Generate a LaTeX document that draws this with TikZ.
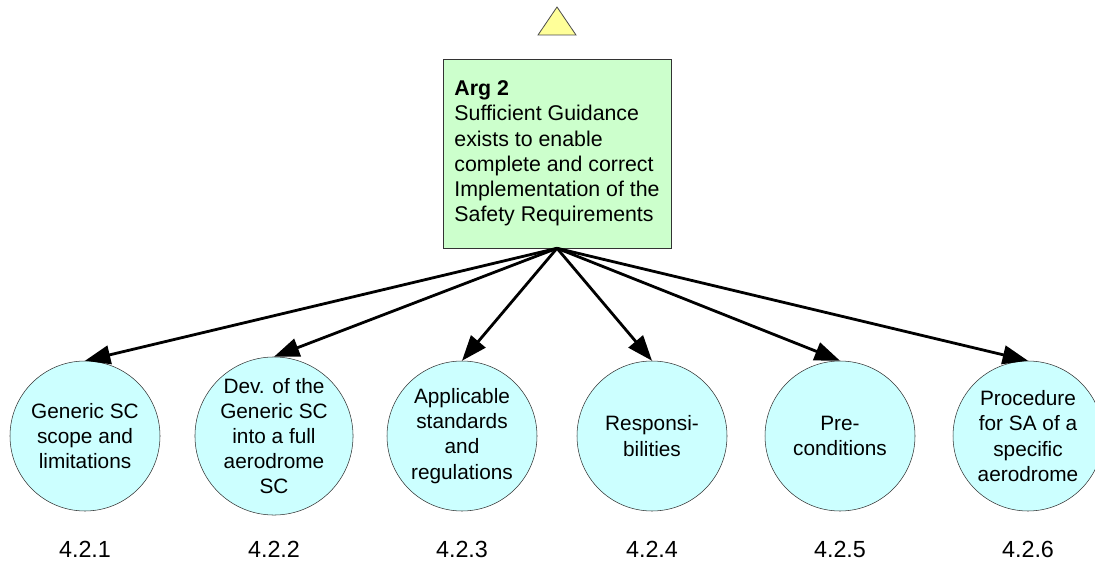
\documentclass[tikz,border=0pt]{standalone}
\usepackage{fontspec}
\setmainfont{Liberation Sans}
\usetikzlibrary{arrows.meta}
\definecolor{argfill}{HTML}{CCFFCC}
\definecolor{ctxfill}{HTML}{CCFFFF}
\definecolor{topfill}{HTML}{FFFF99}
\begin{document}
\begin{tikzpicture}[x=0.75pt,y=-0.75pt,
    argbox/.style={draw=black!80,fill=argfill,align=left,minimum width=171pt,minimum height=141.75pt,inner sep=0pt,
        font=\fontsize{16}{18.9}\selectfont},
    topic/.style={circle,draw=black!80,fill=ctxfill,minimum size=112.5pt,inner sep=0pt,align=center,
        font=\fontsize{15.6}{18.9}\selectfont},
    secno/.style={font=\fontsize{17.5}{20}\selectfont},
    link/.style={line width=2.1pt,-{Triangle[length=19pt,width=14pt]}}] %Arg 2 y sus contextos
    \useasboundingbox (0,0) rectangle (1095,560);

    \coordinate (T1) at (557,7);
    \coordinate (T2) at (538,35);
    \coordinate (T3) at (576,35);
    \filldraw[fill=topfill,draw=black!70,line width=0.6pt] (T1) -- (T2) -- (T3) -- cycle;

    \node[argbox] (arg) at (557,153.5) {\textbf{Arg 2}\\Sufficient Guidance\\exists to enable\\complete and correct\\Implementation of the\\Safety Requirements};

    \node[topic] (gen)  at (85,436)   {Generic SC\\scope and\\limitations};
    \node[topic] (dev)  at (274,436)  {Dev. of the\\Generic SC\\into a full\\aerodrome\\SC};
    \node[topic] (app)  at (462,436)  {Applicable\\standards\\and\\regulations};
    \node[topic] (resp) at (652,436)  {Responsi-\\bilities};
    \node[topic] (pre)  at (840,436)  {Pre-\\conditions};
    \node[topic] (proc) at (1028,436) {Procedure\\for SA of a\\specific\\aerodrome};

    \node[secno] (n1) at (85,549)   {4.2.1};
    \node[secno] (n2) at (274,549)  {4.2.2};
    \node[secno] (n3) at (462,549)  {4.2.3};
    \node[secno] (n4) at (652,549)  {4.2.4};
    \node[secno] (n5) at (840,549)  {4.2.5};
    \node[secno] (n6) at (1028,549) {4.2.6};

    \draw[link] (arg.south) -- (gen.north);
    \draw[link] (arg.south) -- (dev.north);
    \draw[link] (arg.south) -- (app.north);
    \draw[link] (arg.south) -- (resp.north);
    \draw[link] (arg.south) -- (pre.north);
    \draw[link] (arg.south) -- (proc.north);
\end{tikzpicture}
\end{document}
